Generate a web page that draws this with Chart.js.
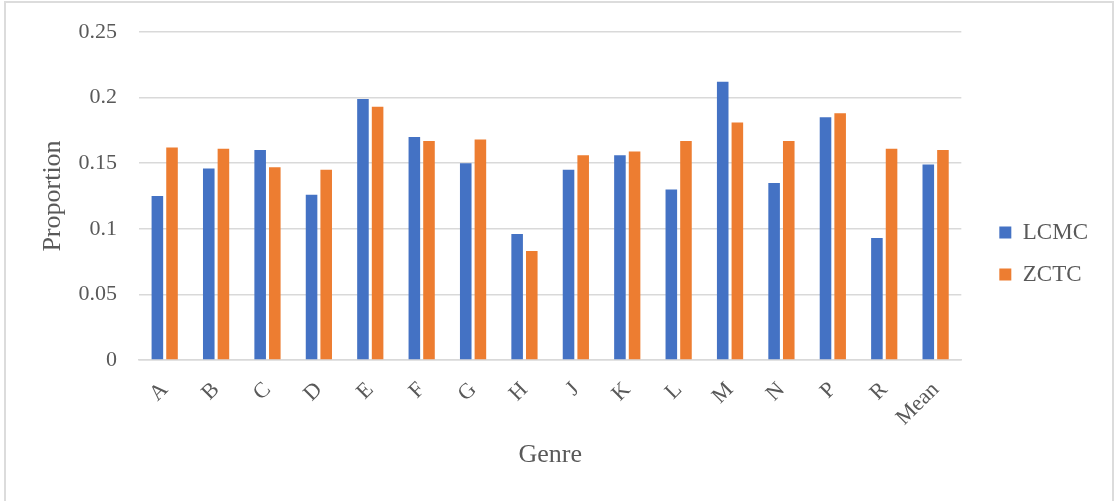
<!DOCTYPE html>
<html>
<head>
<meta charset="utf-8">
<script src="https://cdn.jsdelivr.net/npm/chart.js@4/dist/chart.umd.min.js"></script>
<style>
  html, body { margin: 0; padding: 0; background: #ffffff; overflow: hidden; }
  #wrap { position: relative; width: 1114px; height: 501px; }
  #frame { position: absolute; left: 4px; top: 1px; width: 1110px; height: 530px;
           border: 2px solid #dcdcdc; box-sizing: border-box; pointer-events: none; }
  canvas { position: absolute; left: 0; top: 0; }
</style>
</head>
<body>
<div id="wrap">
  <canvas id="chart" width="1114" height="501"></canvas>
  <div id="frame"></div>
</div>
<script>
// Genre categories
const genres = ['A', 'B', 'C', 'D', 'E', 'F', 'G', 'H', 'J', 'K', 'L', 'M', 'N', 'P', 'R', 'Mean'];

// Proportion per genre for each corpus
const lcmc = [0.125, 0.146, 0.160, 0.126, 0.199, 0.170, 0.150, 0.096, 0.145, 0.156, 0.130, 0.212, 0.135, 0.185, 0.093, 0.149];
const zctc = [0.162, 0.161, 0.147, 0.145, 0.193, 0.167, 0.168, 0.083, 0.156, 0.159, 0.167, 0.181, 0.167, 0.188, 0.161, 0.160];

// Value axis labels
const yTickLabels = ['0', '0.05', '0.1', '0.15', '0.2', '0.25'];

const textGray = '#595959';
const gridGray = '#d9d9d9';
const serif = '"Liberation Serif", "Times New Roman", serif';

new Chart(document.getElementById('chart'), {
  type: 'bar',
  data: {
    labels: genres,
    datasets: [
      { label: 'LCMC', data: lcmc, backgroundColor: '#4472C4', borderWidth: 0,
        barPercentage: 0.79, categoryPercentage: 0.57 },
      { label: 'ZCTC', data: zctc, backgroundColor: '#ED7D31', borderWidth: 0,
        barPercentage: 0.79, categoryPercentage: 0.57 }
    ]
  },
  options: {
    responsive: false,
    animation: false,
    layout: { padding: { top: 32, bottom: 26, left: 0, right: 16 } },
    plugins: {
      tooltip: { enabled: false },
      legend: {
        position: 'right',
        align: 'center',
        labels: {
          boxWidth: 12,
          boxHeight: 12,
          padding: 19,
          color: textGray,
          font: { family: serif, size: 23 }
        }
      }
    },
    scales: {
      x: {
        grid: { display: false },
        border: { display: true, color: gridGray, width: 1.5 },
        ticks: {
          color: textGray,
          font: { family: serif, size: 22 },
          minRotation: 45,
          maxRotation: 45,
          autoSkip: false,
          padding: 9
        },
        title: {
          display: true,
          text: 'Genre',
          color: textGray,
          font: { family: serif, size: 26 },
          padding: { top: 0, bottom: 4 }
        },
        afterFit(scale) { scale.height = 115; }
      },
      y: {
        min: 0,
        max: 0.25,
        border: { display: false },
        // invisible tick marks keep the labels clear of the plot
        grid: { color: gridGray, lineWidth: 1.5, drawTicks: true, tickLength: 20, tickColor: 'rgba(0,0,0,0)' },
        ticks: {
          stepSize: 0.05,
          color: textGray,
          font: { family: serif, size: 22 },
          padding: 2,
          callback: (value, index) => yTickLabels[index]
        },
        title: {
          display: true,
          text: 'Proportion',
          color: textGray,
          font: { family: serif, size: 26 },
          padding: { top: 38, bottom: 0 }
        },
        afterFit(scale) { scale.width = 139; }
      },
      // empty spacer axis between the plot and the legend
      gap: {
        position: 'right',
        display: true,
        grid: { display: false },
        border: { display: false },
        ticks: { display: false },
        afterFit(scale) { scale.width = 19; }
      }
    }
  }
});
</script>
</body>
</html>
